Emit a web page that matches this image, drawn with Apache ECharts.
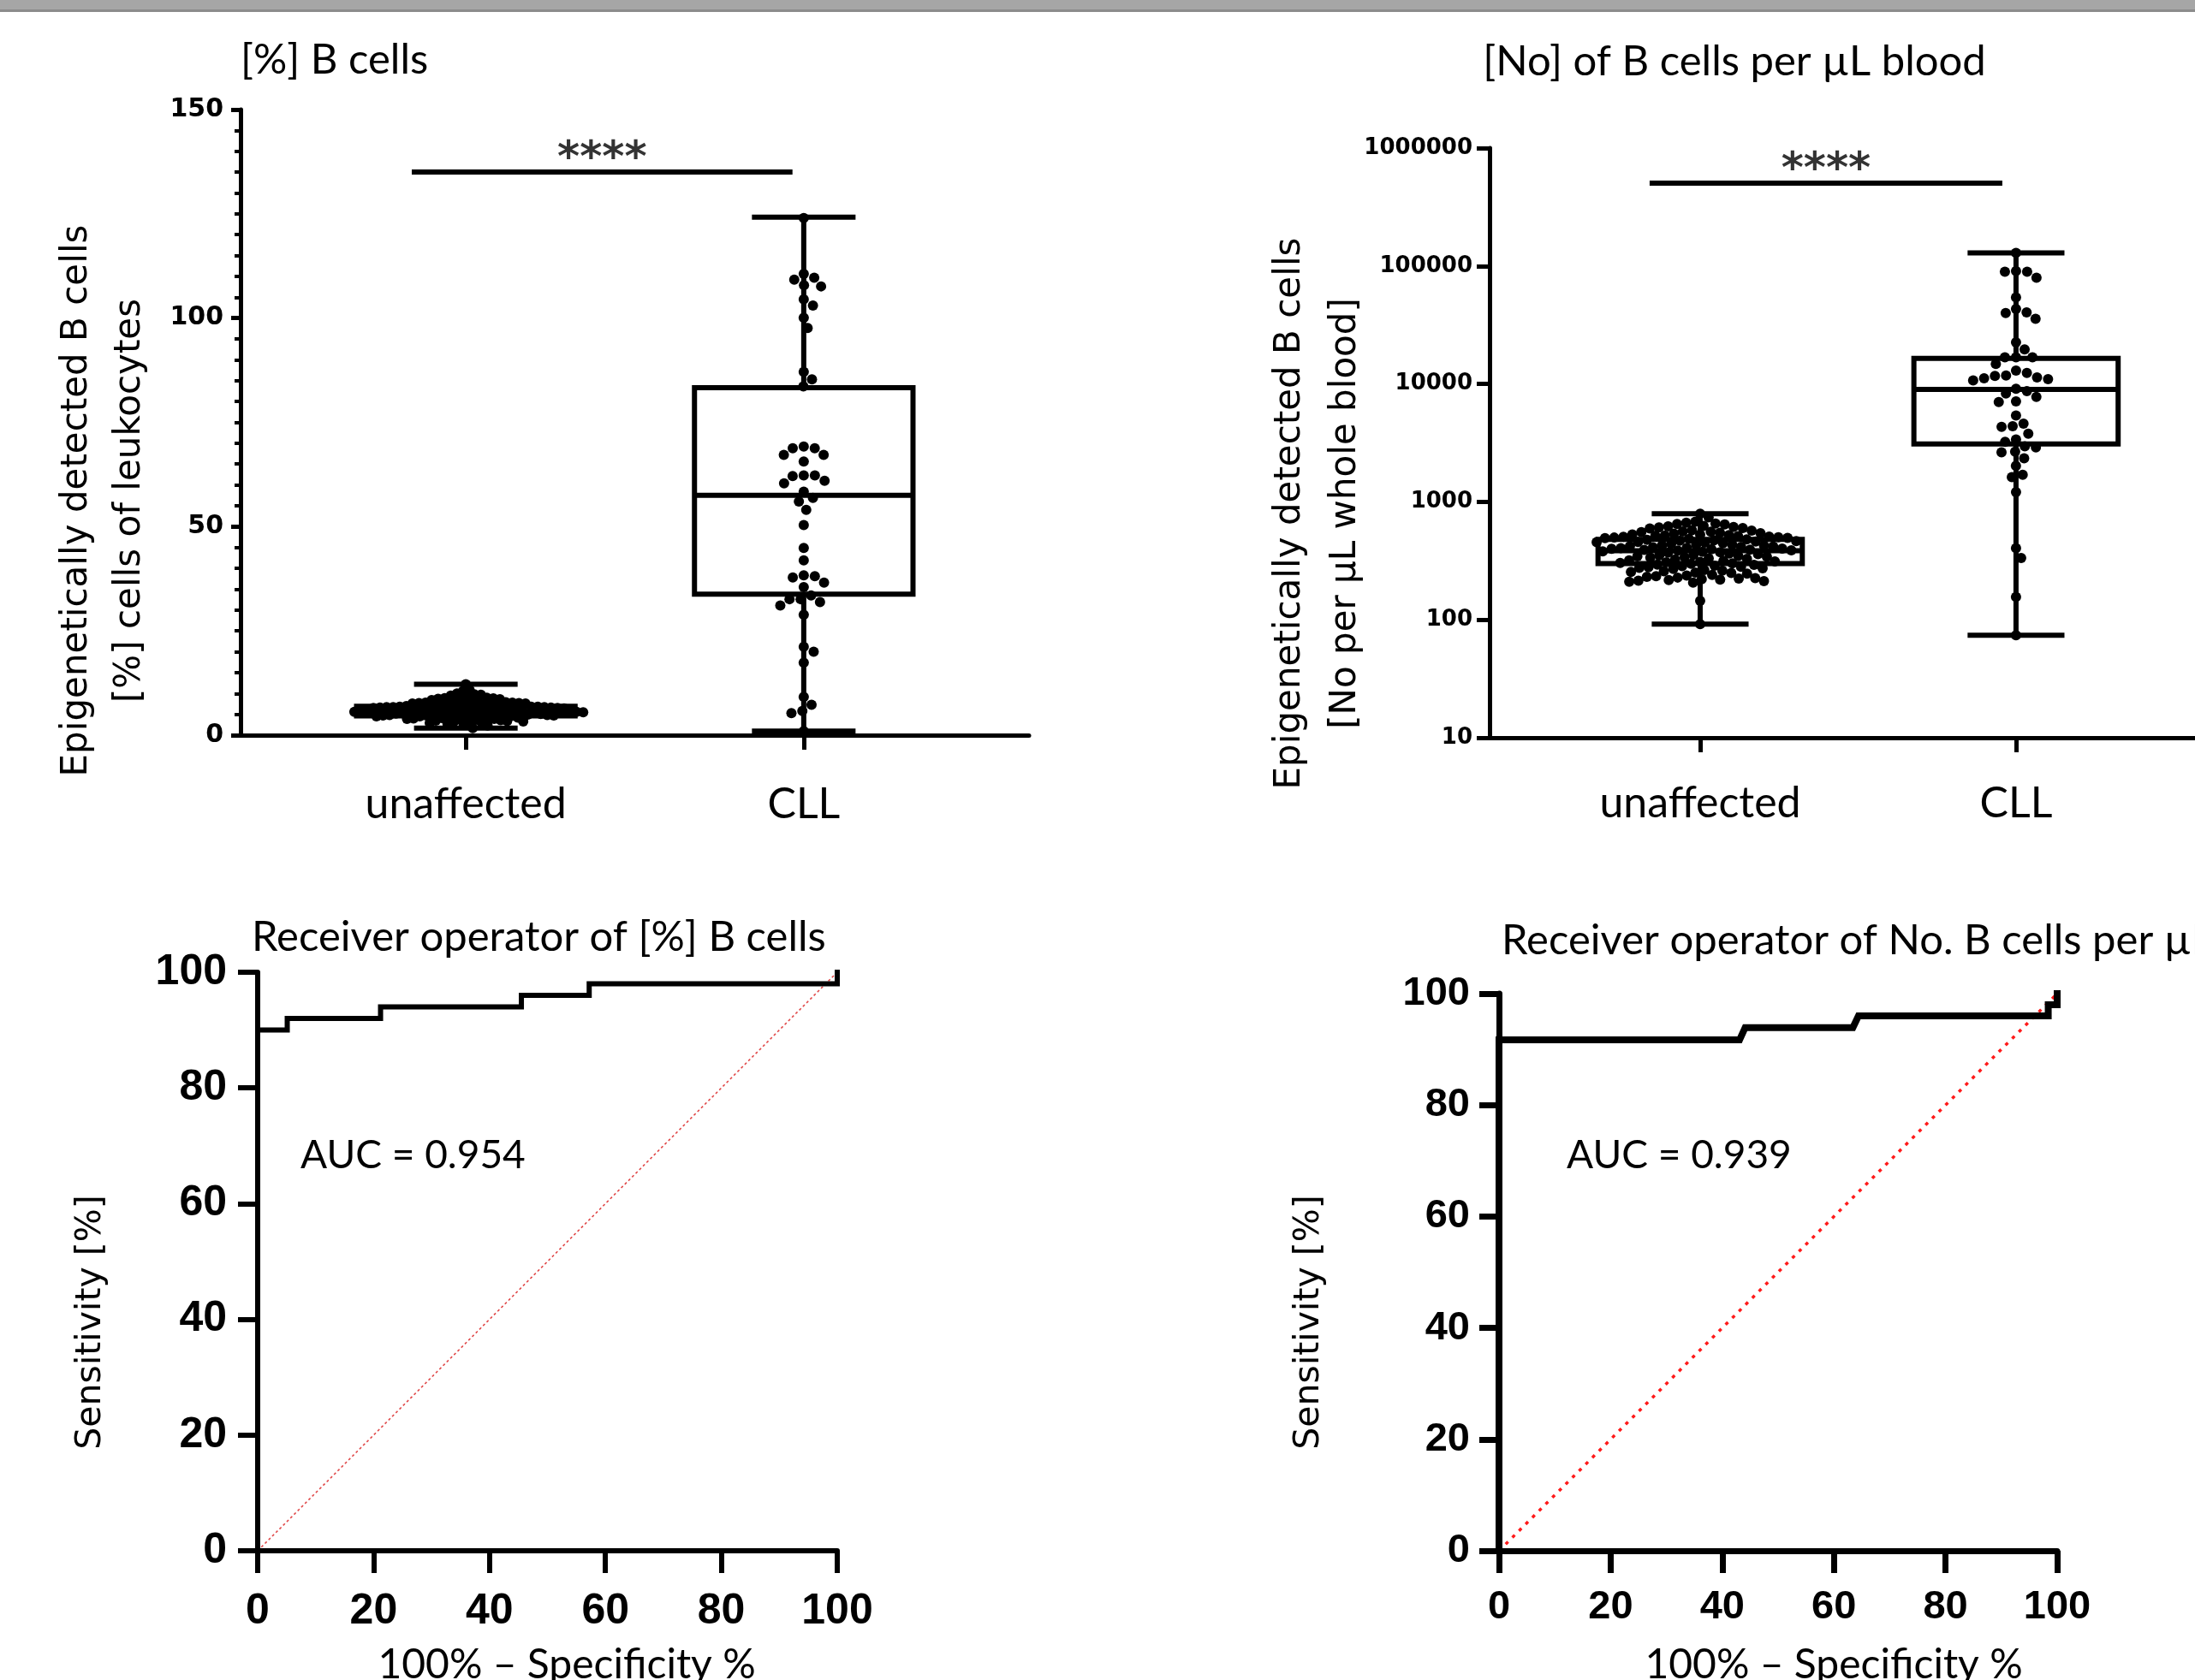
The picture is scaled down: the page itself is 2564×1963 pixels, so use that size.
<!DOCTYPE html>
<html>
<head>
<meta charset="utf-8">
<script src="https://cdn.jsdelivr.net/npm/echarts@6.0.0/dist/echarts.min.js"></script>
<style>
  html, body { margin: 0; padding: 0; background: #fff; }
  #chart { width: 2564px; height: 1963px; }
</style>
</head>
<body>
<div id="chart"></div>
<script>
// groups of the two dot plots and where they sit on the x axis
const groups = ['unaffected', 'CLL'];
const groupPos = [2, 5];

// [%] B cells of leukocytes, single values
const pctUnaffected = [12.2,
  10.9, 10.6,
  10.0, 9.8, 9.7, 9.5,
  9.1, 9.0, 8.9, 8.8, 8.7, 8.6, 8.5, 8.4,
  8.1, 8.0, 7.9, 7.9, 7.8, 7.8, 7.7, 7.7, 7.6, 7.6, 7.5, 7.4, 7.3, 7.2,
  7.1, 7.0, 7.0, 6.9, 6.9, 6.8, 6.8, 6.8, 6.7, 6.7, 6.7, 6.6, 6.6, 6.6, 6.5, 6.5, 6.4, 6.4, 6.3, 6.2,
  6.1, 6.1, 6.0, 6.0, 5.9, 5.9, 5.9, 5.8, 5.8, 5.8, 5.7, 5.7, 5.7, 5.6, 5.6, 5.6, 5.5, 5.5, 5.4, 5.4, 5.3, 5.2,
  5.1, 5.1, 5.0, 5.0, 4.9, 4.9, 4.8, 4.8, 4.8, 4.7, 4.7, 4.7, 4.6, 4.6, 4.5, 4.5, 4.4, 4.4, 4.3, 4.2,
  4.1, 4.0, 3.9, 3.9, 3.8, 3.7, 3.6, 3.5, 3.4, 3.3, 3.2, 3.1,
  3.0, 2.9, 2.7, 2.5, 2.3,
  1.7];
const pctCLL = [124, 110.6, 109.7, 109.2, 107.9, 107.6, 104.5, 103, 100.1, 97.6,
  87.1, 85.3, 83.6, 69.2, 68.8, 68.8, 67.2, 67.2, 65.6, 62.3,
  62.3, 62.1, 61, 60.4, 58.4, 56.9, 56, 54, 50.4, 44.9,
  41.9, 38.3, 38.1, 37.8, 36.6, 35.5, 33.5, 32.6, 32.6, 31.9,
  31.1, 28.9, 21.2, 20, 17.4, 9.2, 7.3, 5.8, 5.3, 1];
// box statistics: min, q1, median, q3, max
const pctBoxUnaffected = [1.7, 4.6, 5.7, 6.9, 12.2];
const pctBoxCLL = [1, 33.8, 57.5, 83.3, 124.2];

// No. of B cells per µL whole blood
const noUnaffected = [794, 739,
  680, 665, 655, 650, 645,
  625, 620, 612, 608, 600, 595,
  575, 570, 562, 558, 553, 548, 542, 537,
  530, 527, 522, 518, 515, 512, 508, 505, 502, 498, 495, 492,
  485, 480, 476, 472, 468, 465, 461, 458, 455, 452, 446, 440,
  434, 431, 428, 425, 420, 418, 415, 412, 407, 405, 402, 400,
  397, 394, 391, 389, 386, 380, 377, 374, 371, 365,
  360, 356, 352, 349, 346, 343, 340, 337, 331, 328, 325, 319,
  316, 313, 310, 307, 304, 301, 298, 294, 292, 288,
  285, 282, 279, 276, 273, 270, 264,
  261, 258, 255, 252, 249, 246, 240,
  237, 234, 231, 228, 226, 224,
  221, 219, 217, 215, 213,
  210, 207,
  145, 92];
const noCLL = [129000, 89500, 89500, 90600, 79600, 54100, 43300, 39900, 40500, 35600,
  22500, 19600, 16800, 16800, 16800, 14800, 13000, 12400, 11800, 11700,
  11350, 11150, 11000, 10700, 9100, 8700, 8300, 7760, 7110, 7030,
  5400, 4600, 4380, 4320, 3780, 3380, 3230, 2960, 2900, 2660,
  2630, 2340, 2020, 1700, 1620, 1210, 405, 334, 156, 74];
const noBoxUnaffected = [92, 300, 385, 480, 794];
const noBoxCLL = [74, 3100, 9000, 16500, 129000];

// significance bars: x from, x to, y
const pctSig = [1.52, 4.9, 135];
const noSig = [1.52, 4.87, 505000];
const sigLabel = '****';

// ROC curves (100% - specificity, sensitivity)
const rocPctX = [0, 0, 5.1, 5.1, 21.2, 21.2, 45.5, 45.5, 57.2, 57.2, 100, 100];
const rocPctY = [0, 90, 90, 92, 92, 94, 94, 96, 96, 98, 98, 100];
const rocNoX = [0, 0, 43.1, 44.1, 63.4, 64.4, 98.4, 98.4, 100, 100];
const rocNoY = [0, 91.7, 91.7, 93.9, 93.9, 96, 96, 98, 98, 100];
const diagonal = [0, 100];

// tick labels
const pctTicks = [0, 50, 100, 150];
const noTicks = [10, 100, 1000, 10000, 100000, 1000000];
const rocTicks = [0, 20, 40, 60, 80, 100];

const CAL = 'Lato, "Open Sans", sans-serif';
const VER = '"DejaVu Sans", Verdana, sans-serif';
const ARI = '"Liberation Sans", Arial, sans-serif';
const BOX_HALF = 0.97;
const CAP_HALF = 0.46;
const DOT = 12;

const chart = echarts.init(document.getElementById('chart'));

// box, whiskers, caps and median drawn through the axes
function renderBox(params, api) {
  const x = api.value(0);
  const med = api.value(3);
  const ys = [1, 2, 3, 4, 5].map(i => api.coord([x, api.value(i)])[1]);
  const px = dx => api.coord([x + dx, med])[0];
  const st = { stroke: '#000', lineWidth: 6, fill: 'transparent', lineJoin: 'miter' };
  const xc = px(0), xl = px(-BOX_HALF), xr = px(BOX_HALF), cl = px(-CAP_HALF), cr = px(CAP_HALF);
  return {
    type: 'group',
    children: [
      { type: 'line', shape: { x1: xc, y1: ys[3], x2: xc, y2: ys[4] }, style: st },
      { type: 'line', shape: { x1: xc, y1: ys[1], x2: xc, y2: ys[0] }, style: st },
      { type: 'line', shape: { x1: cl, y1: ys[4], x2: cr, y2: ys[4] }, style: st },
      { type: 'line', shape: { x1: cl, y1: ys[0], x2: cr, y2: ys[0] }, style: st },
      { type: 'rect', shape: { x: xl, y: ys[3], width: xr - xl, height: ys[1] - ys[3] }, style: st },
      { type: 'line', shape: { x1: xl, y1: ys[2], x2: xr, y2: ys[2] }, style: st }
    ]
  };
}

function groupAxis(gridIndex, max, margin) {
  return {
    type: 'value', gridIndex, min: 0, max,
    axisLine: { onZero: false, lineStyle: { color: '#000', width: 5 } },
    axisTick: { customValues: groupPos, length: 17, lineStyle: { color: '#000', width: 5 } },
    axisLabel: {
      customValues: groupPos, formatter: v => groups[groupPos.indexOf(v)],
      fontFamily: CAL, fontSize: 50, color: '#000', margin
    },
    splitLine: { show: false }
  };
}

function rocAxis(gridIndex, w, size, tickLen, margin) {
  return {
    type: 'value', gridIndex, min: rocTicks[0], max: rocTicks[rocTicks.length - 1], interval: 20,
    axisLine: { onZero: false, lineStyle: { color: '#000', width: w } },
    axisTick: { length: tickLen, lineStyle: { color: '#000', width: w } },
    axisLabel: { fontFamily: ARI, fontWeight: 'bold', fontSize: size, color: '#000', margin },
    splitLine: { show: false }
  };
}

function txt(text, x, y, font, size, extra) {
  const el = {
    type: 'text', x, y,
    style: { text, fontFamily: font, fontSize: size, fill: '#000', align: 'left', verticalAlign: 'middle' }
  };
  if (extra && extra.style) Object.assign(el.style, extra.style);
  if (extra && extra.rotation) el.rotation = extra.rotation;
  return el;
}

const vert = { rotation: Math.PI / 2, style: { align: 'center' } };
const sigStyle = { show: true, formatter: sigLabel, position: 'top', distance: -11, fontFamily: VER, fontWeight: 'bold', fontSize: 50, color: '#000' };

const option = {
  backgroundColor: '#fff',
  animation: false,
  grid: [
    { left: 281, top: 128, width: 921, height: 731 },
    { left: 1740, top: 173, right: 0, height: 689 },
    { left: 301, top: 1136, width: 677, height: 676 },
    { left: 1751, top: 1161, width: 652, height: 651 }
  ],
  xAxis: [
    groupAxis(0, 7, 56),
    groupAxis(1, 6.7, 52),
    rocAxis(2, 6, 50, 26, 46),
    rocAxis(3, 7, 47, 26, 43)
  ],
  yAxis: [
    {
      type: 'value', gridIndex: 0, min: pctTicks[0], max: pctTicks[pctTicks.length - 1], interval: 50,
      axisLine: { lineStyle: { color: '#000', width: 5 } },
      axisTick: { length: 11, lineStyle: { color: '#000', width: 5 } },
      minorTick: { show: true, splitNumber: 10, length: 7, lineStyle: { color: '#000', width: 4 } },
      axisLabel: { fontFamily: VER, fontWeight: 'bold', fontSize: 30, color: '#000', margin: 20 },
      splitLine: { show: false }, minorSplitLine: { show: false }
    },
    {
      type: 'log', logBase: 10, gridIndex: 1, min: noTicks[0], max: noTicks[noTicks.length - 1],
      axisLine: { lineStyle: { color: '#000', width: 5 } },
      axisTick: { customValues: noTicks, length: 15, lineStyle: { color: '#000', width: 5 } },
      axisLabel: {
        customValues: noTicks, formatter: v => String(Math.round(v)),
        fontFamily: VER, fontWeight: 'bold', fontSize: 26, color: '#000', margin: 20
      },
      splitLine: { show: false }
    },
    rocAxis(2, 6, 50, 23, 36),
    rocAxis(3, 7, 47, 23, 34)
  ],
  series: [
    {
      type: 'custom', xAxisIndex: 0, yAxisIndex: 0, renderItem: renderBox, clip: false,
      encode: { x: 0, y: [1, 2, 3, 4, 5] },
      data: [[groupPos[0]].concat(pctBoxUnaffected), [groupPos[1]].concat(pctBoxCLL)]
    },
    { id: 'dotsA', type: 'scatter', xAxisIndex: 0, yAxisIndex: 0, symbolSize: DOT, itemStyle: { color: '#000', opacity: 1 }, data: [] },
    {
      type: 'line', xAxisIndex: 0, yAxisIndex: 0, symbol: 'none',
      lineStyle: { color: '#000', width: 6, cap: 'butt' },
      data: [[pctSig[0], pctSig[2]], [pctSig[1], pctSig[2]]]
    },
    {
      type: 'scatter', xAxisIndex: 0, yAxisIndex: 0, symbolSize: 0, label: sigStyle,
      data: [[(pctSig[0] + pctSig[1]) / 2, pctSig[2]]]
    },
    {
      type: 'custom', xAxisIndex: 1, yAxisIndex: 1, renderItem: renderBox, clip: false,
      encode: { x: 0, y: [1, 2, 3, 4, 5] },
      data: [[groupPos[0]].concat(noBoxUnaffected), [groupPos[1]].concat(noBoxCLL)]
    },
    { id: 'dotsB', type: 'scatter', xAxisIndex: 1, yAxisIndex: 1, symbolSize: DOT, itemStyle: { color: '#000', opacity: 1 }, data: [] },
    {
      type: 'line', xAxisIndex: 1, yAxisIndex: 1, symbol: 'none',
      lineStyle: { color: '#000', width: 6, cap: 'butt' },
      data: [[noSig[0], noSig[2]], [noSig[1], noSig[2]]]
    },
    {
      type: 'scatter', xAxisIndex: 1, yAxisIndex: 1, symbolSize: 0, label: sigStyle,
      data: [[(noSig[0] + noSig[1]) / 2, noSig[2]]]
    },
    {
      type: 'line', xAxisIndex: 2, yAxisIndex: 2, symbol: 'none',
      lineStyle: { color: '#e04848', width: 1.6, type: [3, 3] },
      data: diagonal.map(v => [v, v])
    },
    {
      type: 'line', xAxisIndex: 2, yAxisIndex: 2, symbol: 'none',
      lineStyle: { color: '#000', width: 6, join: 'miter', cap: 'square' },
      data: rocPctX.map((x, i) => [x, rocPctY[i]])
    },
    {
      type: 'line', xAxisIndex: 3, yAxisIndex: 3, symbol: 'none',
      lineStyle: { color: '#ff1a1a', width: 3.5, type: [4, 7] },
      data: diagonal.map(v => [v, v])
    },
    {
      type: 'line', xAxisIndex: 3, yAxisIndex: 3, symbol: 'none',
      lineStyle: { color: '#000', width: 8, join: 'miter', cap: 'square' },
      data: rocNoX.map((x, i) => [x, rocNoY[i]])
    }
  ],
  graphic: [
    { type: 'rect', shape: { x: 0, y: 0, width: 2564, height: 12 }, style: { fill: '#a6a6a6' } },
    { type: 'rect', shape: { x: 0, y: 11, width: 2564, height: 3 }, style: { fill: '#8c8c8c' } },
    txt('[%] B cells', 281, 70, CAL, 49),
    txt('[No] of B cells per µL blood', 2026, 72, CAL, 49, { style: { align: 'center' } }),
    txt('Receiver operator of [%] B cells', 294, 1095, CAL, 49),
    txt('Receiver operator of No. B cells per µL blood', 1754, 1099, CAL, 49),
    txt('AUC = 0.954', 351, 1350, CAL, 46),
    txt('AUC = 0.939', 1830, 1350, CAL, 46),
    txt('Epigenetically detected B cells\n[%] cells of leukocytes', 121, 585, VER, 42,
      { rotation: Math.PI / 2, style: { align: 'center', lineHeight: 62 } }),
    txt('Epigenetically detected B cells\n[No per µL whole blood]', 1540, 600, VER, 42,
      { rotation: Math.PI / 2, style: { align: 'center', lineHeight: 65 } }),
    txt('Sensitivity [%]', 106, 1545, VER, 41, vert),
    txt('Sensitivity [%]', 1529, 1545, VER, 41, vert),
    txt('100% – Specificity %', 662, 1946, CAL, 48, { style: { align: 'center' } }),
    txt('100% – Specificity %', 2142, 1946, CAL, 48, { style: { align: 'center' } })
  ]
};

chart.setOption(option);

// beeswarm: spread dots sideways in pixel space so they do not overlap (gap = min centre distance)
function swarm(gridIndex, pos, values, d) {
  const pts = values.map(v => {
    const p = chart.convertToPixel({ gridIndex }, [pos, v]);
    return { v, px: p[0], py: p[1], ox: 0 };
  });
  const order = pts.slice().sort((a, b) => a.py - b.py);
  const placed = [];
  order.forEach(p => {
    const cands = [0];
    placed.forEach(q => {
      const dy = p.py - q.py;
      if (Math.abs(dy) < d) {
        const dx = Math.sqrt(d * d - dy * dy);
        cands.push(q.ox + dx, q.ox - dx);
      }
    });
    cands.sort((a, b) => Math.abs(a) - Math.abs(b));
    for (const c of cands) {
      if (placed.every(q => Math.hypot(c - q.ox, p.py - q.py) >= d - 0.01)) { p.ox = c; break; }
    }
    placed.push(p);
  });
  return pts.map(p => [chart.convertFromPixel({ gridIndex }, [p.px + p.ox, p.py])[0], p.v]);
}

chart.setOption({
  series: [
    { id: 'dotsA', data: swarm(0, groupPos[0], pctUnaffected, 7.7).concat(swarm(0, groupPos[1], pctCLL, DOT + 1)) },
    { id: 'dotsB', data: swarm(1, groupPos[0], noUnaffected, 10.8).concat(swarm(1, groupPos[1], noCLL, DOT + 1)) }
  ]
});
</script>
</body>
</html>
